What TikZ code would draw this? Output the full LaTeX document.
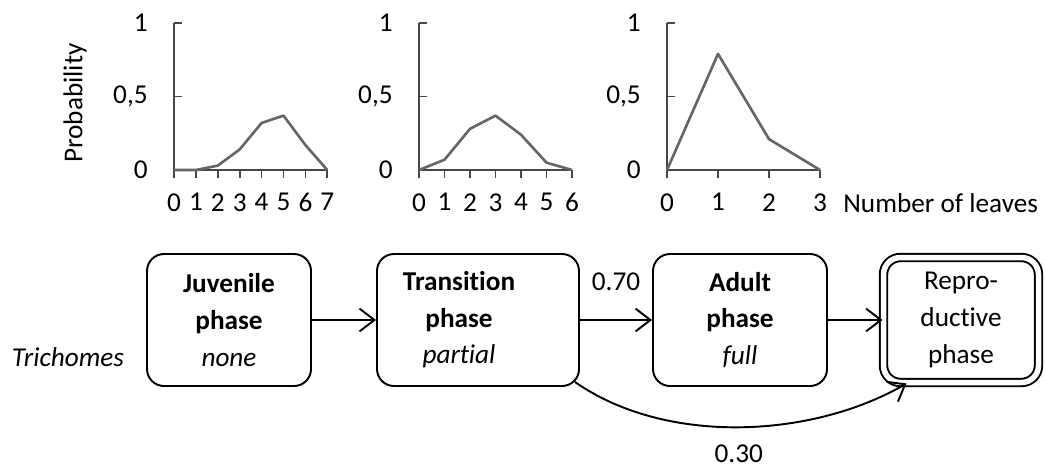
\documentclass[tikz,border=0pt]{standalone}
\usepackage{fontspec}
\setmainfont{Carlito}[Ligatures=NoCommon]
\usetikzlibrary{arrows.meta,positioning}

\tikzset{
  phase/.style={draw, line width=1.1pt, rounded corners=3.4mm, align=center,
    minimum height=26.4mm, inner sep=0pt},
  flow/.style={line width=1.1pt, -{Straight Barb[length=8.5pt,width=13pt]}},
  chartaxis/.style={line width=0.95pt, draw=black!72},
  datacurve/.style={line width=1.5pt, draw=black!60, line join=round},
  lbl/.style={inner sep=0pt}
}

\begin{document}
\begin{tikzpicture}[x=0.2mm, y=-0.2mm, font=\fontsize{15.5}{20.8}\selectfont]
        \useasboundingbox (0,0) rectangle (1045,471);

        \begin{scope}[shift={(174,170)}, x=4.38mm, y=29.4mm]
          \draw[chartaxis] (0,0.5) -- ++(1.6mm,0) (0,1) -- ++(1.6mm,0)
          (0,1) -- (0,0) -- (7,0);
          \foreach \i in {0,...,7}
            \draw[chartaxis] (\i,0) -- ++(0,-1.6mm) node[lbl, below=2.9mm] (xa\i) {\i};
          \node[lbl, left=5.2mm] (ya1) at (0,1) {1};
          \node[lbl, left=5.2mm] (ya5) at (0,0.5) {0,5};
          \node[lbl, left=5.2mm] (ya0) at (0,0) {0};
          \draw[datacurve] plot coordinates {(0,0) (1,0) (2,0.03) (3,0.14)
            (4,0.32) (5,0.37) (6,0.17) (7,0)};
        \end{scope}
        \node[rotate=90] (prob) at (75,103) {Probability};

        \begin{scope}[shift={(419,170)}, x=5.1mm, y=29.4mm]
          \draw[chartaxis] (0,0.5) -- ++(1.6mm,0) (0,1) -- ++(1.6mm,0)
          (0,1) -- (0,0) -- (6,0);
          \foreach \i in {0,...,6}
            \draw[chartaxis] (\i,0) -- ++(0,-1.6mm) node[lbl, below=2.9mm] (xb\i) {\i};
          \node[lbl, left=5.2mm] (yb1) at (0,1) {1};
          \node[lbl, left=5.2mm] (yb5) at (0,0.5) {0,5};
          \node[lbl, left=5.2mm] (yb0) at (0,0) {0};
          \draw[datacurve] plot coordinates {(0,0) (1,0.07) (2,0.28) (3,0.37)
            (4,0.24) (5,0.05) (6,0)};
        \end{scope}

        \begin{scope}[shift={(667,170)}, x=10.2mm, y=29.4mm]
          \draw[chartaxis] (0,0.5) -- ++(1.6mm,0) (0,1) -- ++(1.6mm,0)
          (0,1) -- (0,0) -- (3,0);
          \foreach \i in {0,...,3}
            \draw[chartaxis] (\i,0) -- ++(0,-1.6mm) node[lbl, below=2.9mm] (xc\i) {\i};
          \node[lbl, left=5.2mm] (yc1) at (0,1) {1};
          \node[lbl, left=5.2mm] (yc5) at (0,0.5) {0,5};
          \node[lbl, left=5.2mm] (yc0) at (0,0) {0};
          \draw[datacurve] plot coordinates {(0,0) (1,0.79) (2,0.21) (3,0)};
        \end{scope}
        \node[lbl, anchor=west] (nleaves) at (843,203) {Number of leaves};

        \node (trich) at (68,357) {\textit{Trichomes}};
        \node[phase, minimum width=32.8mm] (juv) at (229,320)
          {\textbf{Juvenile}\\\textbf{phase}\\\textit{none}};
        \node[phase, minimum width=40.4mm] (trans) at (478,320)
          {\begin{tabular}{@{}c@{}}\textbf{Transition}\\\textbf{phase}\\\textit{partial}\end{tabular}\hspace{7.6mm}};
        \node[phase, minimum width=34.8mm] (adult) at (740,320)
          {\textbf{Adult}\\\textbf{phase}\\\textit{full}};
        \node[phase, double, double distance=1.1mm, minimum width=31mm,
          minimum height=25mm] (repro) at (961,320) {Repro-\\ductive\\phase};

        \draw[flow] (juv) -- (trans);
        \draw[flow] (trans) -- node[lbl, above=5.6mm] (p70) {0.70} (adult);
        \draw[flow] (adult) -- (repro);
        \draw[flow] ([shift={(-5,-5)}]trans.south east) to[out=-35, in=-150, looseness=0.85]
          node[lbl, below=3.4mm] (p30) {0.30} ([shift={(24,0)}]repro.south west);
      \end{tikzpicture}
\end{document}
